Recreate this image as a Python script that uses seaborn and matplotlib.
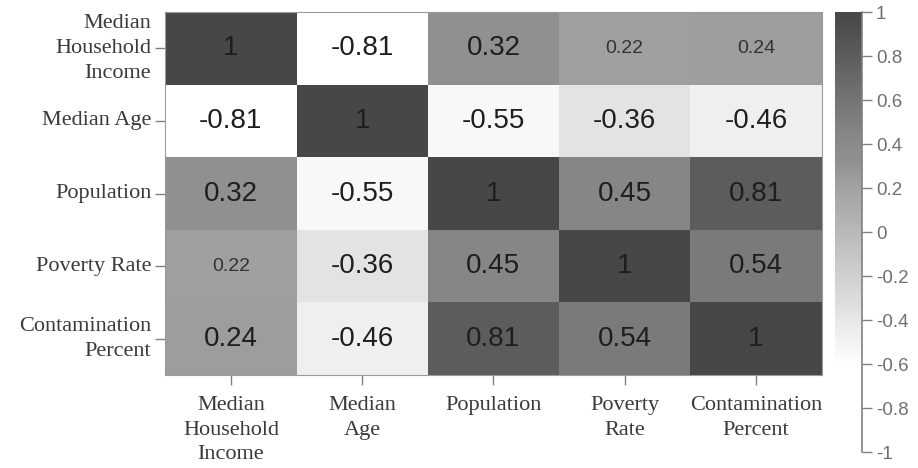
import numpy as np
import pandas as pd
import seaborn as sns
import matplotlib
matplotlib.use("Agg")
import matplotlib.pyplot as plt
from matplotlib.colors import LinearSegmentedColormap

x_labels = ["Median\nHousehold\nIncome", "Median\nAge", "Population", "Poverty\nRate", "Contamination\nPercent"]
y_labels = ["Median\nHousehold\nIncome", "Median Age", "Population", "Poverty Rate", "Contamination\nPercent"]

row_income = [1.00, -0.81, 0.32, 0.22, 0.24]
row_age = [-0.81, 1.00, -0.55, -0.36, -0.46]
row_pop = [0.32, -0.55, 1.00, 0.45, 0.81]
row_poverty = [0.22, -0.36, 0.45, 1.00, 0.54]
row_contam = [0.24, -0.46, 0.81, 0.54, 1.00]

annot_labels = [["1", "-0.81", "0.32", "0.22", "0.24"],
                ["-0.81", "1", "-0.55", "-0.36", "-0.46"],
                ["0.32", "-0.55", "1", "0.45", "0.81"],
                ["0.22", "-0.36", "0.45", "1", "0.54"],
                ["0.24", "-0.46", "0.81", "0.54", "1"]]
small_cells = [(0, 3), (0, 4), (3, 0)]

cbar_ticks = [1, 0.8, 0.6, 0.4, 0.2, 0, -0.2, -0.4, -0.6, -0.8, -1]
cbar_tick_labels = ["1", "0.8", "0.6", "0.4", "0.2", "0", "-0.2", "-0.4", "-0.6", "-0.8", "-1"]

df = pd.DataFrame([row_income, row_age, row_pop, row_poverty, row_contam],
                  index=y_labels, columns=x_labels)

cmap = LinearSegmentedColormap.from_list(
    "g", [(0.0, "#ffffff"), (0.2, "#ffffff"), (0.225, "#f8f8f8"), (0.27, "#efefef"),
          (0.32, "#e2e2e2"), (0.61, "#a0a0a0"), (0.66, "#909090"), (0.725, "#868686"),
          (0.77, "#7b7b7b"), (0.905, "#5c5c5c"), (1.0, "#474747")])

fig = plt.figure(figsize=(9.18, 4.68), dpi=100)
ax = fig.add_axes([0.180, 0.199, 0.715, 0.775])
cax = fig.add_axes([0.9096, 0.034, 0.0294, 0.940])

sns.heatmap(df, ax=ax, cbar_ax=cax, cmap=cmap, vmin=-1, vmax=1,
            annot=np.array(annot_labels), fmt="",
            annot_kws={"fontsize": 20, "color": "#1e1e1e", "family": "Liberation Sans"})

for t in ax.texts:
    x, y = t.get_position()
    r, c = int(y - 0.5), int(x - 0.5)
    if (r, c) in small_cells:
        t.set_fontsize(14)
        t.set_color("#333333")

serif = "Liberation Serif"
ax.set_xticklabels(x_labels, rotation=0, family=serif, fontsize=16, color="#3a3a3a",
                   ha="center", va="top", linespacing=1.42)
ax.set_yticklabels(y_labels, rotation=0, family=serif, fontsize=16, color="#3a3a3a",
                   ha="right", va="center", multialignment="right", linespacing=1.42)
ax.tick_params(axis="x", length=7, width=1, color="#808080", pad=8)
ax.tick_params(axis="y", length=7, width=1, color="#808080", pad=3)
ax.set_xlabel("")
ax.set_ylabel("")
for s in ax.spines.values():
    s.set_visible(True)
    s.set_color("#9a9a9a")
    s.set_linewidth(0.8)

cbar = ax.collections[0].colorbar
cbar.outline.set_visible(False)
cbar.set_ticks(cbar_ticks)
cbar.set_ticklabels(cbar_tick_labels)
cax.tick_params(axis="y", length=7, width=1, color="#808080", labelcolor="#707070",
                labelsize=13.5, pad=3)
for lbl in cax.get_yticklabels():
    lbl.set_family("Liberation Sans")
cax.plot([1, 1], [0, 1], transform=cax.transAxes, color="#808080", lw=1.2, clip_on=False)

fig.savefig("out.png", dpi=100, facecolor="white")
